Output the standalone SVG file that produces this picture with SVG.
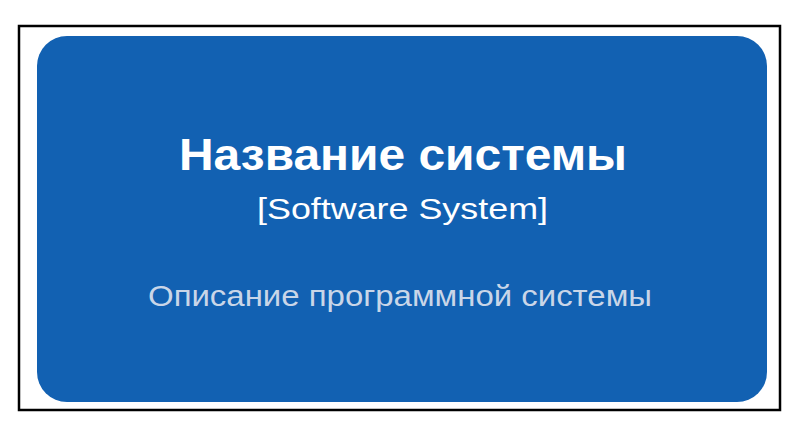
<svg xmlns="http://www.w3.org/2000/svg" width="800" height="442" viewBox="0 0 800 442">
<style>
.t{font-family:"Liberation Sans",Arial,sans-serif;text-anchor:middle}
</style>
<rect width="800" height="442" fill="#ffffff"/>
<rect x="19" y="26" width="761" height="384" fill="#ffffff" stroke="#000000" stroke-width="2.5"/>
<g id="system">
<rect x="37" y="36" width="730" height="366" rx="30" ry="30" fill="#1261B2"/>
<text class="t" x="403" y="170" font-size="44" font-weight="bold" fill="#ffffff" textLength="448" lengthAdjust="spacingAndGlyphs">Название системы</text>
<text class="t" x="402.5" y="219" font-size="29" fill="#ffffff" textLength="291" lengthAdjust="spacingAndGlyphs">[Software System]</text>
<text class="t" x="400" y="306" font-size="30" fill="#c9d6e8" textLength="504" lengthAdjust="spacingAndGlyphs">Описание программной системы</text>
</g>
</svg>
